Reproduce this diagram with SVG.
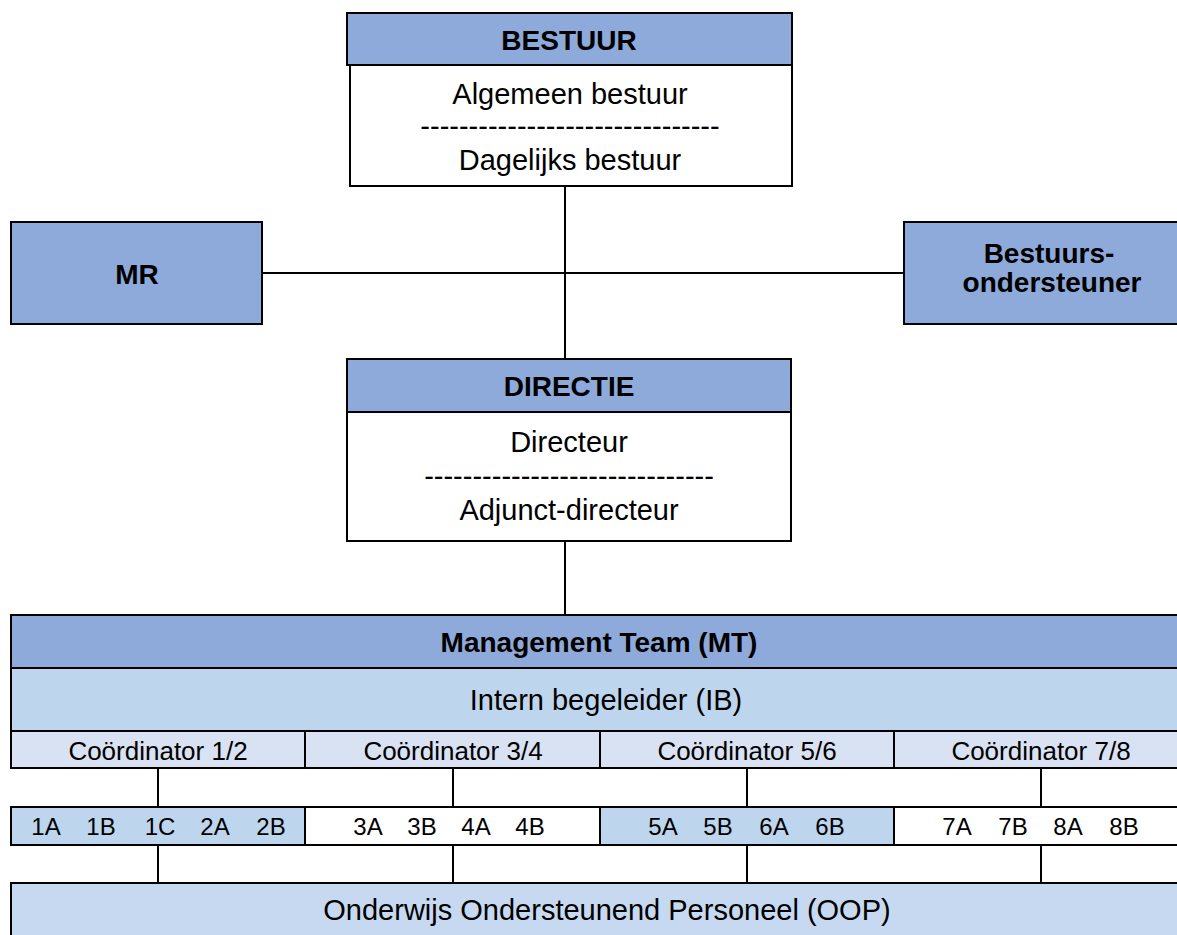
<svg xmlns="http://www.w3.org/2000/svg" width="1177" height="935" viewBox="0 0 1177 935">
<style>
text{font-family:"Liberation Sans",Arial,sans-serif;fill:#000;text-anchor:middle}
.b{font-weight:bold;font-size:28px}
.n{font-size:29px}
.c{font-size:26px}
.k{font-size:24px}
.box{stroke:#000;stroke-width:2}
.hdr{fill:#8EAADB}
.wht{fill:#fff}
.ib{fill:#BDD6EE}
.crd{fill:#D9E2F3}
.oop{fill:#C6D9F0}
.ln{stroke:#000;stroke-width:2;fill:none}
</style>
<rect width="1177" height="935" fill="#fff"/>
<g id="connectors">
<line class="ln" x1="565" y1="186" x2="565" y2="359"/>
<line class="ln" x1="262" y1="273" x2="904" y2="273"/>
<line class="ln" x1="565" y1="541" x2="565" y2="615"/>
<line class="ln" x1="158" y1="768" x2="158" y2="807"/>
<line class="ln" x1="453" y1="768" x2="453" y2="807"/>
<line class="ln" x1="747" y1="768" x2="747" y2="807"/>
<line class="ln" x1="1041" y1="768" x2="1041" y2="807"/>
<line class="ln" x1="158" y1="845" x2="158" y2="883"/>
<line class="ln" x1="453" y1="845" x2="453" y2="883"/>
<line class="ln" x1="747" y1="845" x2="747" y2="883"/>
<line class="ln" x1="1041" y1="845" x2="1041" y2="883"/>
</g>
<g id="bestuur">
<rect class="box wht" x="350" y="65" width="442" height="121"/>
<rect class="box hdr" x="347" y="13" width="445" height="52"/>
<text class="b" x="569" y="50">BESTUUR</text>
<text class="n" x="570" y="104">Algemeen bestuur</text>
<text class="n" x="570" y="136">-------------------------------</text>
<text class="n" x="570" y="170">Dagelijks bestuur</text>
</g>
<g id="mr">
<rect class="box hdr" x="11" y="222" width="251" height="102"/>
<text class="b" x="137" y="284">MR</text>
</g>
<g id="bestuursondersteuner">
<rect class="box hdr" x="904" y="222" width="300" height="102"/>
<text class="b" x="1049" y="263">Bestuurs-</text>
<text class="b" x="1052" y="292">ondersteuner</text>
</g>
<g id="directie">
<rect class="box wht" x="347" y="412" width="444" height="129"/>
<rect class="box hdr" x="347" y="359" width="444" height="53"/>
<text class="b" x="569" y="396">DIRECTIE</text>
<text class="n" x="569" y="452">Directeur</text>
<text class="n" x="569" y="486">------------------------------</text>
<text class="n" x="569" y="520">Adjunct-directeur</text>
</g>
<g id="mt">
<rect class="box hdr" x="11" y="615" width="1190" height="53"/>
<text class="b" x="599" y="652">Management Team (MT)</text>
</g>
<g id="ib">
<rect class="box ib" x="11" y="668" width="1190" height="63"/>
<text class="n" x="606" y="710">Intern begeleider (IB)</text>
</g>
<g id="coordinatoren">
<rect class="box crd" x="11" y="731" width="294" height="37"/>
<rect class="box crd" x="305" y="731" width="295" height="37"/>
<rect class="box crd" x="600" y="731" width="294" height="37"/>
<rect class="box crd" x="894" y="731" width="307" height="37"/>
<text class="c" x="158" y="760">Coördinator 1/2</text>
<text class="c" x="453" y="760">Coördinator 3/4</text>
<text class="c" x="747" y="760">Coördinator 5/6</text>
<text class="c" x="1041" y="760">Coördinator 7/8</text>
</g>
<g id="groepen">
<rect class="box ib" x="11" y="807" width="294" height="38"/>
<rect class="box wht" x="305" y="807" width="295" height="38"/>
<rect class="box ib" x="600" y="807" width="294" height="38"/>
<rect class="box wht" x="894" y="807" width="307" height="38"/>
<text class="k" x="46" y="835">1A</text>
<text class="k" x="101" y="835">1B</text>
<text class="k" x="160" y="835">1C</text>
<text class="k" x="215" y="835">2A</text>
<text class="k" x="271" y="835">2B</text>
<text class="k" x="368" y="835">3A</text>
<text class="k" x="422" y="835">3B</text>
<text class="k" x="476" y="835">4A</text>
<text class="k" x="530" y="835">4B</text>
<text class="k" x="663" y="835">5A</text>
<text class="k" x="718" y="835">5B</text>
<text class="k" x="774" y="835">6A</text>
<text class="k" x="830" y="835">6B</text>
<text class="k" x="957" y="835">7A</text>
<text class="k" x="1013" y="835">7B</text>
<text class="k" x="1068" y="835">8A</text>
<text class="k" x="1124" y="835">8B</text>
</g>
<g id="oop">
<rect class="box oop" x="11" y="883" width="1190" height="70"/>
<text class="n" x="607" y="920">Onderwijs Ondersteunend Personeel (OOP)</text>
</g>
</svg>
